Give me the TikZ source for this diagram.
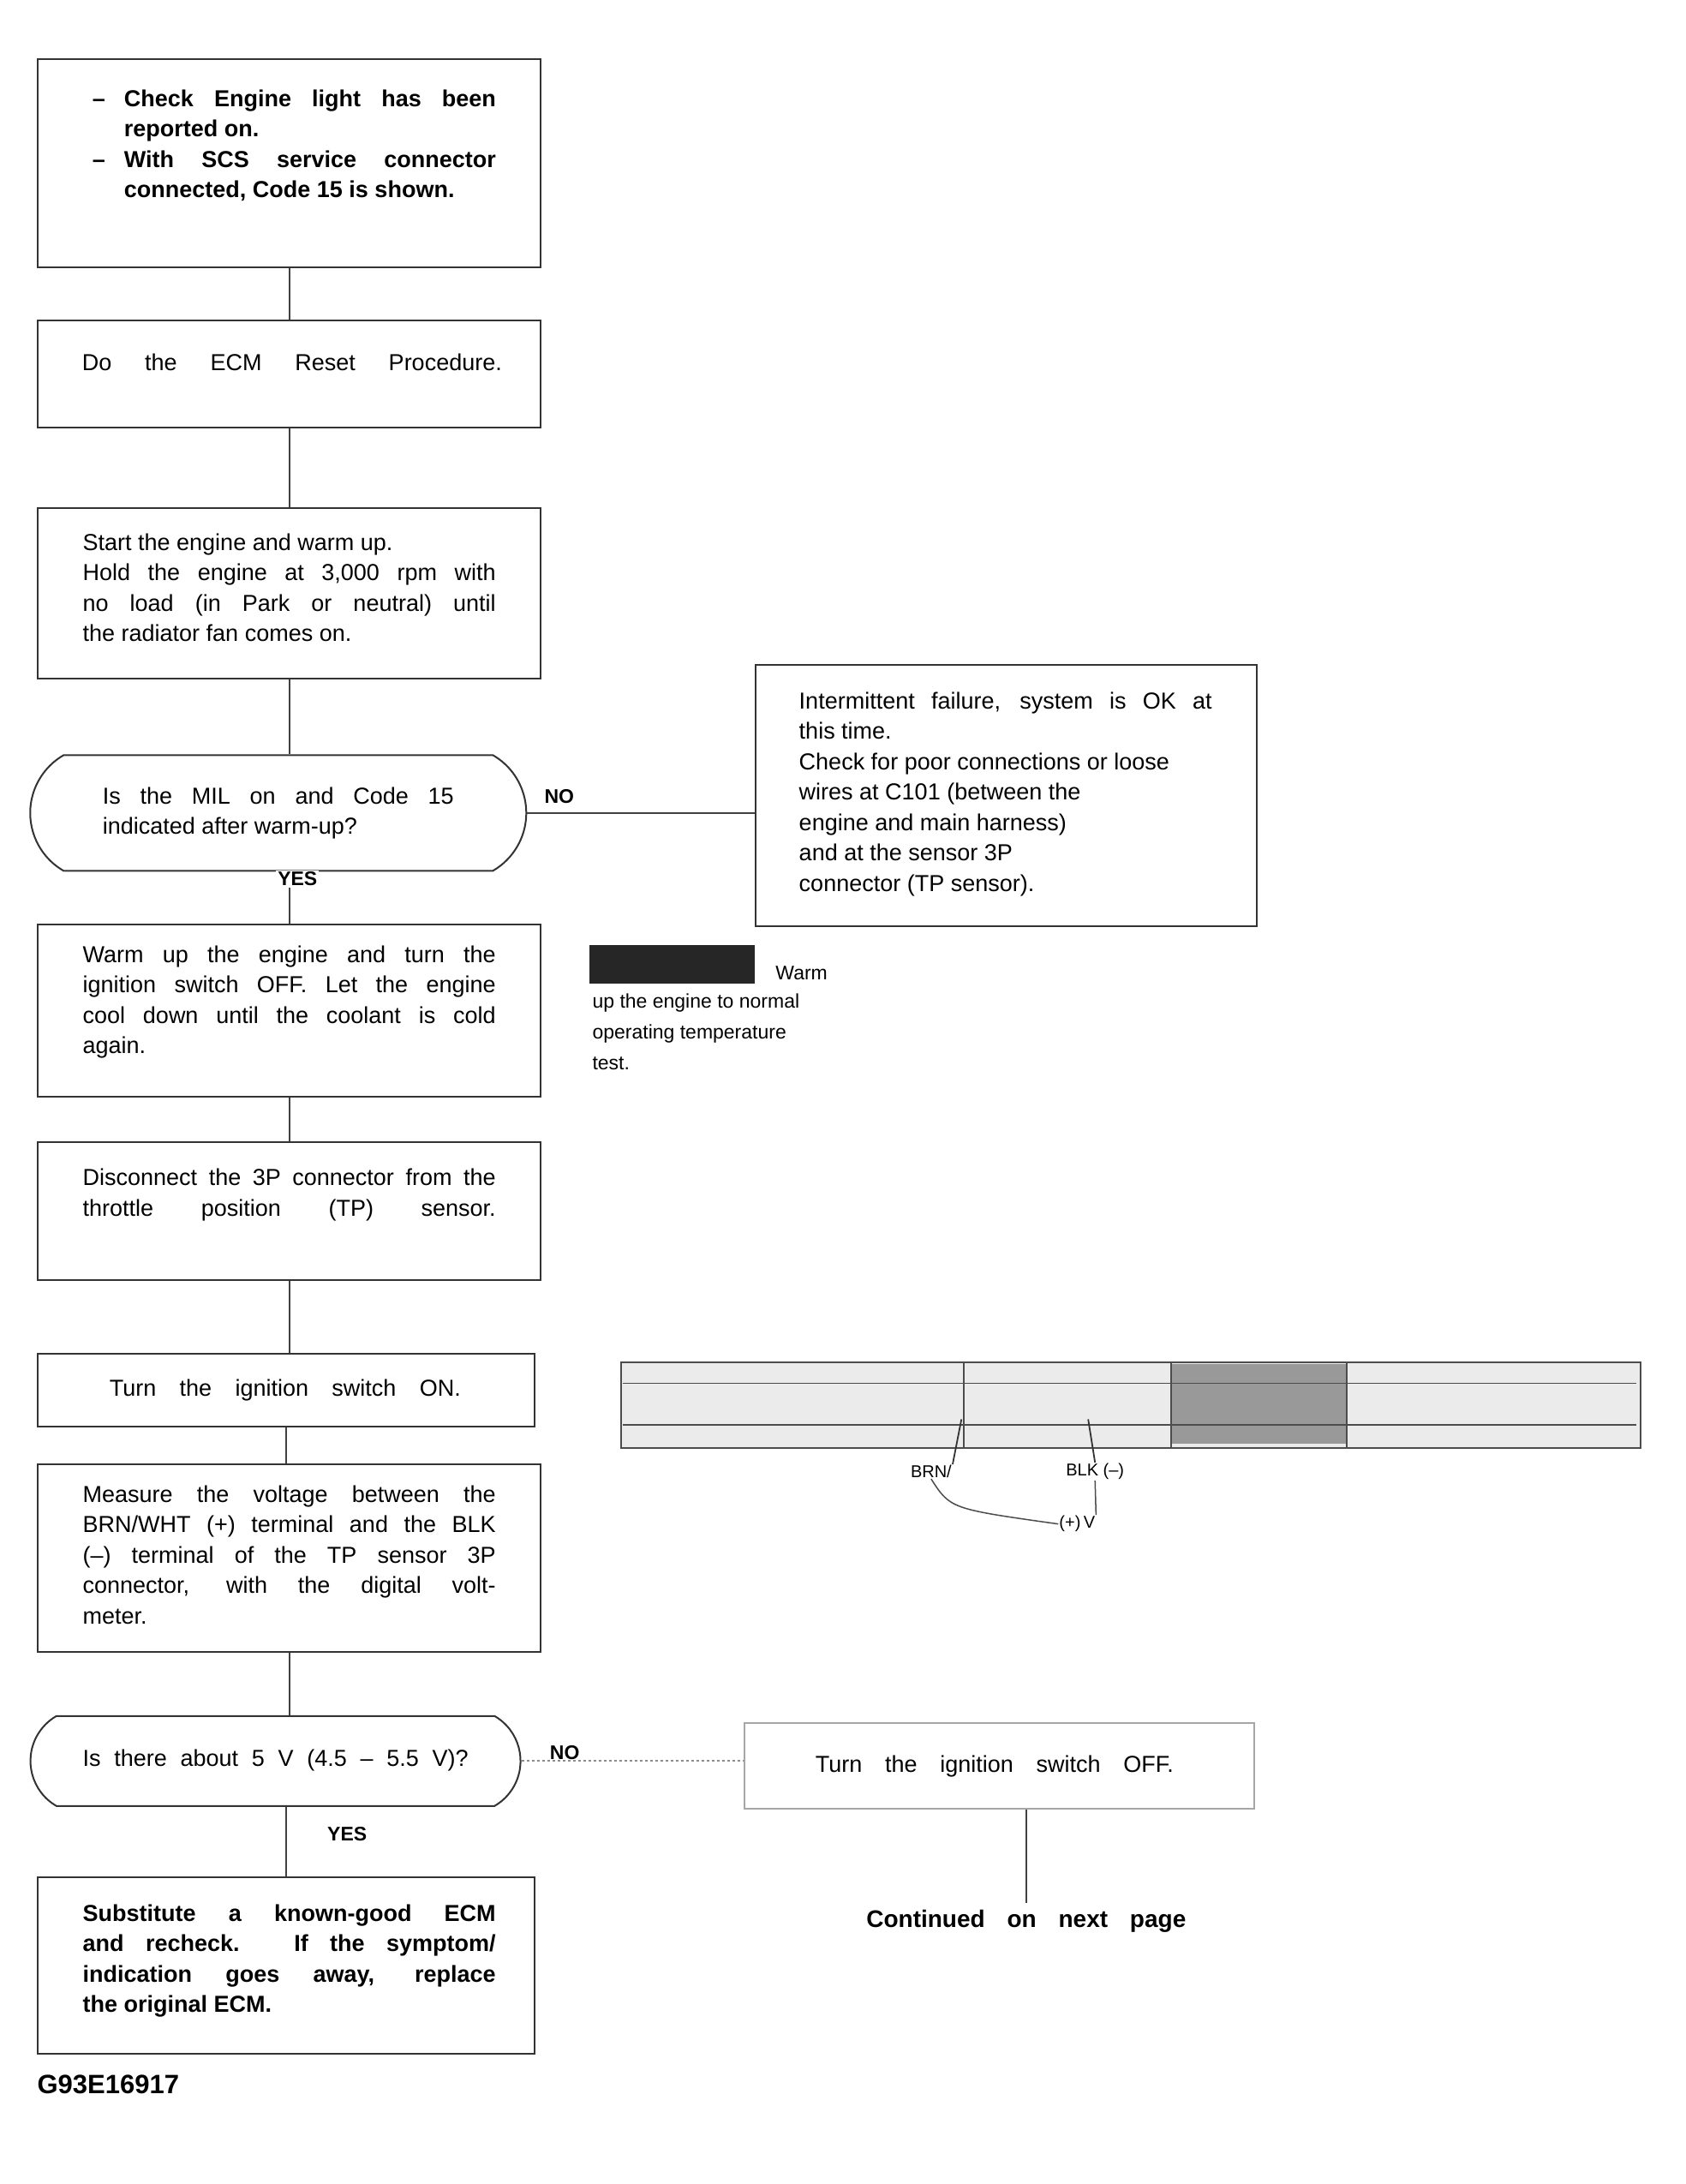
\documentclass[tikz,border=0pt]{standalone}
\usepackage{fontspec}
\setmainfont{Liberation Sans}
\usetikzlibrary{shapes.misc}
\begin{document}
\begin{tikzpicture}[x=1.6078pt,y=-1.6082pt,
 box/.style={draw=black!80,line width=2pt,anchor=north west,inner sep=0pt,minimum width=587pt},
 txt/.style={anchor=north west,inner sep=0pt,text width=482pt,align=justify,font=\fontsize{27}{35.5}\selectfont,execute at begin node={\parindent=0pt}},
 btxt/.style={txt,font=\fontsize{27}{35.5}\selectfont\bfseries},
 link/.style={draw=black!75,line width=2pt},
 yn/.style={font=\fontsize{23}{26}\selectfont\bfseries,inner sep=2pt},
 dec/.style={rounded rectangle,rounded rectangle arc length=120,draw=black!80,line width=2pt,inner sep=0pt,font=\fontsize{27}{35.5}\selectfont,align=left},
 small/.style={font=\fontsize{20}{24}\selectfont,inner sep=1pt}
]
\useasboundingbox (0,0) rectangle (1224,1585);
\fill[white] (0,0) rectangle (1224,1585);

% ---- box 1
\node[box,minimum height=243pt] (b1) at (27,42) {};
\node[btxt,text width=471pt] (t1) at (67,65) {\hangindent=37pt\hangafter=1\makebox[37pt][l]{--}Check Engine light has been\linebreak reported on.\par
\hangindent=37pt\hangafter=1\makebox[37pt][l]{--}With SCS service connector\linebreak connected, Code 15 is shown.\par};

% ---- box 2
\node[box,minimum height=125pt] (b2) at (27,232) {};
\node[inner sep=0pt,font=\fontsize{27}{35.5}\selectfont] (t2) at (212,263) {\makebox[490pt][s]{Do the ECM Reset Procedure.}};

% ---- box 3
\node[box,minimum height=199pt] (b3) at (27,368) {};
\node[txt] (t3) at (60,387) {Start the engine and warm up.\par Hold the engine at 3,000 rpm with\linebreak no load (in Park or neutral) until\linebreak the radiator fan comes on.};

% ---- decision 1
\node[dec,minimum width=579pt,minimum height=135pt] (d1) at (202,590) {\parbox{410pt}{\raggedright\makebox[410pt][s]{Is the MIL on and Code 15}\\ indicated after warm-up?}};
\node[yn] (no1) at (406,578) {NO};

% ---- right box 1
\node[box,minimum width=585pt,minimum height=305pt] (rb1) at (548,482) {};
\node[txt] (trb1) at (580,502) {Intermittent failure, system is OK at\linebreak this time.\par Check for poor connections or loose\newline wires at C101 (between the\newline engine and main harness)\newline and at the sensor 3P\newline connector (TP sensor).};

% ---- box 5
\node[box,minimum height=201pt] (b5) at (27,670) {};
\node[txt] (t5) at (60,686) {Warm up the engine and turn the\linebreak ignition switch OFF. Let the engine\linebreak cool down until the coolant is cold\linebreak again.};

% ---- note beside box 5
\node[fill=black!85,anchor=north west,minimum width=193pt,minimum height=45pt,inner sep=0pt] (blk) at (428,686) {};
\node[anchor=west,inner sep=0pt,font=\fontsize{23}{36}\selectfont] (note1) at (563,706) {Warm};
\node[anchor=north west,inner sep=0pt,font=\fontsize{23}{36}\selectfont,align=left] (note2) at (430,721) {up the engine to normal\\ operating temperature\\ test.};

% ---- box 6
\node[box,minimum height=161pt] (b6) at (27,828) {};
\node[txt] (t6) at (60,848) {Disconnect the 3P connector from the\linebreak throttle position (TP) sensor.\parfillskip=0pt\par};

% ---- box 7
\node[box,minimum width=580pt,minimum height=85pt] (b7) at (27,982) {};
\node[inner sep=0pt,font=\fontsize{27}{35.5}\selectfont] (t7) at (207,1009) {\makebox[410pt][s]{Turn the ignition switch ON.}};

% ---- connector drawing
\node[draw=black!70,fill=black!8,line width=2pt,anchor=north west,minimum width=1190pt,minimum height=100pt,inner sep=0pt] (conn) at (450,988) {};
\fill[black!40] (850,990) rectangle (978,1048);
\draw[black!70,line width=1.6pt] (452,1004) -- (1188,1004) (452,1034) -- (1188,1034);
\draw[black!70,line width=2pt] (700,988) -- (700,1050) (850,988) -- (850,1050) (978,988) -- (978,1050);
\coordinate (pinA) at (698,1030);
\coordinate (pinB) at (790,1030);
\node[small] (lA) at (676,1068) {BRN/};
\node[small] (lB) at (795,1068) {BLK (--)};
\node[small] (vm) at (782,1106) {(+)\,V};
\draw[black!80,line width=1.8pt] (pinA) -- (lA.north east);
\draw[black!80,line width=1.8pt] (pinB) -- (lB.north);
\draw[black!70,line width=1.5pt] (lA.south) .. controls (690,1095) .. (vm.west);
\draw[black!70,line width=1.5pt] (lB.south) -- (vm.north east);

% ---- box 8
\node[box,minimum height=219pt] (b8) at (27,1062) {};
\node[txt] (t8) at (60,1078) {Measure the voltage between the\linebreak BRN/WHT (+) terminal and the BLK\linebreak (--) terminal of the TP sensor 3P\linebreak connector, with the digital volt-\linebreak meter.};

% ---- decision 2
\node[dec,minimum width=572pt,minimum height=105pt] (d2) at (200,1278) {\raisebox{8pt}{\makebox[450pt][s]{Is there about 5 V (4.5 -- 5.5 V)?}}};
\node[yn] (no2) at (410,1272) {NO};
\node[yn] (yes2) at (252,1331) {YES};

% ---- right box 2
\node[box,draw=black!35,minimum width=595pt,minimum height=100pt] (rb2) at (540,1250) {};
\node[inner sep=0pt,font=\fontsize{27}{35.5}\selectfont] (trb2) at (722,1282) {\makebox[418pt][s]{Turn the ignition switch OFF.}};
\node[inner sep=8pt,font=\fontsize{28}{35.5}\selectfont\bfseries] (cont) at (745,1394) {\makebox[373pt][s]{Continued on next page}};

% ---- box 9
\node[box,minimum width=580pt,minimum height=206pt] (b9) at (27,1362) {};
\node[btxt] (t9) at (60,1382) {Substitute a known-good ECM\linebreak and recheck. If the symptom/\linebreak indication goes away, replace\linebreak the original ECM.};

% ---- footer
\node[anchor=west,inner sep=0pt,font=\fontsize{31}{36}\selectfont\bfseries] (foot) at (27,1513) {G93E16917};

% ---- connectors
\draw[link] (b1.south) -- (b1.south |- b2.north);
\draw[link] (b2.south) -- (b2.south |- b3.north);
\draw[link] (b3.south) -- (b3.south |- d1.north);
\draw[link] (b5.north |- d1.south) -- (b5.north);
\draw[link] (b5.south) -- (b5.south |- b6.north);
\draw[link] (b6.south) -- (b6.south |- b7.north);
\draw[link] (b7.south) -- (b7.south |- b8.north);
\draw[link] (b8.south) -- (b8.south |- d2.north);
\draw[link] (b9.north |- d2.south) -- (b9.north);
\draw[link] (d1.east) -- (d1.east -| rb1.west);
\draw[link,dashed,draw=black!45] (d2.east) -- (d2.east -| rb2.west);
\draw[link] (rb2.south -| cont.north) -- (cont.north);
\node[yn,fill=white] (yes1) at (216,638) {YES};
\end{tikzpicture}
\end{document}
